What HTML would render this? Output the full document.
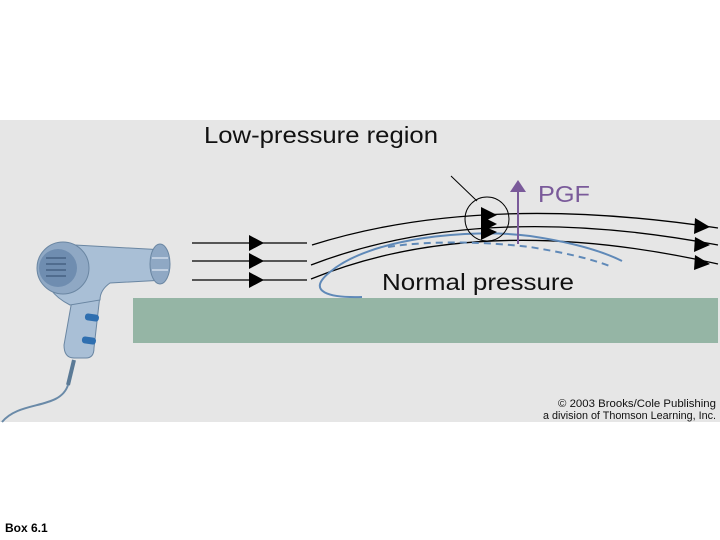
<!DOCTYPE html>
<html><head><style>
body{margin:0;background:#fff;width:720px;height:540px;overflow:hidden;font-family:"Liberation Sans",Arial,sans-serif}
</style></head><body>
<svg width="720" height="540" xmlns="http://www.w3.org/2000/svg" style="position:absolute;left:0;top:0">
<rect x="0" y="120" width="720" height="302" fill="#e6e6e6"/>
<rect x="133" y="298" width="585" height="45" fill="#95b5a5"/>
<!-- dryer -->
<path d="M2 422 C20 400,60 410,68 385 L72 370" stroke="#6a8aa8" stroke-width="2" fill="none"/>
<path d="M68 385 L74 360" stroke="#5b7a96" stroke-width="4"/>
<path d="M72 300 L64 345 Q64 358 74 358 L86 358 Q94 358 94 348 L100 295 Z" fill="#a9bfd6" stroke="#6a86a2" stroke-width="1"/>
<path d="M50 250 Q58 244 75 245 L165 250 L165 280 L110 283 Q100 290 100 300 L70 305 Q40 290 45 260 Z" fill="#a9bfd6" stroke="#6a86a2" stroke-width="1"/>
<circle cx="63" cy="268" r="26" fill="#8fa8c4" stroke="#6a86a2"/>
<circle cx="58" cy="268" r="19" fill="#6f8db0"/>
<g stroke="#3e5a7a" stroke-width="1.2"><line x1="46" y1="258" x2="66" y2="258"/><line x1="46" y1="264" x2="66" y2="264"/><line x1="46" y1="270" x2="66" y2="270"/><line x1="46" y1="276" x2="66" y2="276"/></g>
<ellipse cx="160" cy="264" rx="10" ry="20" fill="#8fa8c4" stroke="#6a86a2"/>
<g stroke="#d0dceb" stroke-width="1.5"><line x1="152" y1="258" x2="168" y2="258"/><line x1="152" y1="270" x2="168" y2="270"/></g>
<rect x="85" y="314" width="14" height="7" rx="3" fill="#2f6fb0" transform="rotate(8 92 317)"/>
<rect x="82" y="337" width="14" height="7" rx="3" fill="#2f6fb0" transform="rotate(8 89 340)"/>
<!-- straight flow lines -->
<g stroke="#000" stroke-width="1.3">
<line x1="192" y1="243" x2="307" y2="243"/><line x1="192" y1="261" x2="307" y2="261"/><line x1="192" y1="280" x2="307" y2="280"/>
</g>
<g fill="#000"><path d="M249 235 L264 243 L249 251Z"/><path d="M249 253 L264 261 L249 269Z"/><path d="M249 272 L264 280 L249 288Z"/></g>
<!-- curved flow lines -->
<g stroke="#000" stroke-width="1.3" fill="none">
<path d="M312 245 Q480 192 718 228"/>
<path d="M311 265 Q480 200 718 245"/>
<path d="M311 279 Q480 210 718 264"/>
</g>
<g fill="#000"><path d="M695 218 L710 227 L694 234Z"/><path d="M695 237 L710 245 L694 252Z"/><path d="M695 255 L710 264 L694 270Z"/></g>
<!-- blue curves -->
<path d="M362 297 C330 298,305 292,330 272 C370 238,470 228,530 236 C570 242,600 250,622 261" stroke="#5f89b8" stroke-width="2" fill="none"/>
<path d="M388 247 C430 240,490 242,530 247 C560 252,590 258,612 267" stroke="#5f89b8" stroke-width="2" stroke-dasharray="7,5" fill="none"/>
<!-- circle and arrows -->
<circle cx="487" cy="219" r="22" fill="none" stroke="#000" stroke-width="1"/>
<line x1="451" y1="176" x2="477" y2="201" stroke="#000" stroke-width="1"/>
<g fill="#000"><path d="M481 207 L497 215 L481 223Z"/><path d="M481 216 L497 224 L481 232Z"/><path d="M481 225 L497 232 L481 240Z"/></g>
<line x1="518" y1="244" x2="518" y2="190" stroke="#7a5a9a" stroke-width="2"/>
<path d="M510 192 L518 180 L526 192Z" fill="#7a5a9a"/>
<text x="538" y="202" font-size="23" fill="#7a5a9a" textLength="52" lengthAdjust="spacingAndGlyphs">PGF</text>
<text x="204" y="143" font-size="23" fill="#111" textLength="234" lengthAdjust="spacingAndGlyphs">Low-pressure region</text>
<text x="382" y="290" font-size="23" fill="#111" textLength="192" lengthAdjust="spacingAndGlyphs">Normal pressure</text>
<text x="716" y="407" font-size="11" fill="#111" text-anchor="end" textLength="158" lengthAdjust="spacingAndGlyphs">© 2003 Brooks/Cole Publishing</text>
<text x="716" y="419" font-size="11" fill="#111" text-anchor="end" textLength="173" lengthAdjust="spacingAndGlyphs">a division of Thomson Learning, Inc.</text>
<text x="5" y="532" font-size="12" font-weight="bold" fill="#000">Box 6.1</text>
</svg>
</body></html>
